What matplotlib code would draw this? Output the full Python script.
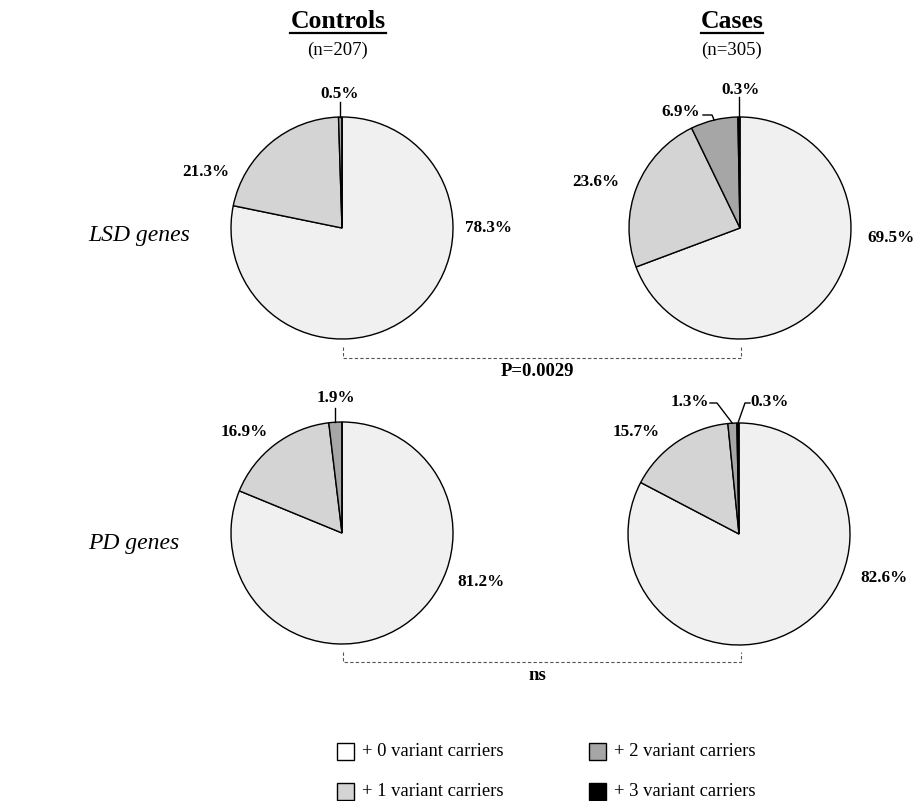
import numpy as np
import matplotlib
matplotlib.use("Agg")
import matplotlib.pyplot as plt
from matplotlib.patches import Rectangle

# ---------------- data ----------------
categories = ["+ 0 variant carriers", "+ 1 variant carriers",
              "+ 2 variant carriers", "+ 3 variant carriers"]
groups = ["Controls", "Cases"]
group_n = [207, 305]
gene_sets = ["LSD genes", "PD genes"]

lsd_controls = [78.3, 21.3, 0.5, 0.0]
lsd_cases = [69.5, 23.6, 6.9, 0.3]
pd_controls = [81.2, 16.9, 1.9, 0.0]
pd_cases = [82.6, 15.7, 1.3, 0.3]

p_values = ["P=0.0029", "ns"]

colors = ["#f0f0f0", "#d4d4d4", "#a6a6a6", "#000000"]
legend_colors = ["#ffffff", "#d4d4d4", "#a6a6a6", "#000000"]

# ---------------- layout (pixel coordinates, y down) ----------------
W, H = 914, 801
def Y(py):
    return H - py

SERIF = ["Liberation Serif", "DejaVu Serif"]
plt.rcParams["font.family"] = SERIF

fig = plt.figure(figsize=(W / 100, H / 100), dpi=100)
ax = fig.add_axes([0, 0, 1, 1])

centers = {("LSD genes", "Controls"): (342, 228), ("LSD genes", "Cases"): (740, 228),
           ("PD genes", "Controls"): (342, 533), ("PD genes", "Cases"): (739, 534)}
radius = 111

data = {("LSD genes", "Controls"): lsd_controls, ("LSD genes", "Cases"): lsd_cases,
        ("PD genes", "Controls"): pd_controls, ("PD genes", "Cases"): pd_cases}

# label centers for each category per pie (None = no label)
label_pos = {
    ("LSD genes", "Controls"): [(489, 228), (206, 172), (340, 94), None],
    ("LSD genes", "Cases"): [(891, 238), (596, 182), (681, 112), (741, 90)],
    ("PD genes", "Controls"): [(481, 582), (244, 432), (336, 398), None],
    ("PD genes", "Cases"): [(884, 578), (636, 432), (690, 402), (770, 402)],
}
# leader lines: start points (pixels) before reaching the wedge edge
leaders = {
    ("LSD genes", "Controls"): {2: "vert102"},
    ("LSD genes", "Cases"): {2: [(703, 115), (712, 115)], 3: "vert97"},
    ("PD genes", "Controls"): {2: "vert408"},
    ("PD genes", "Cases"): {2: [(710, 403), (717, 403)], 3: [(750, 403), (745, 403)]},
}

for key, vals in data.items():
    cx, cy = centers[key]
    ax.pie(vals, colors=colors, startangle=90, counterclock=False,
           center=(cx, Y(cy)), radius=radius,
           wedgeprops=dict(edgecolor="black", linewidth=1.0))
    total = float(sum(vals))
    cum = np.cumsum([0] + list(vals)) / total
    for i, v in enumerate(vals):
        pos = label_pos[key][i]
        if pos is None or v == 0:
            continue
        ax.text(pos[0], Y(pos[1]), f"{v:.1f}%", ha="center", va="center",
                fontsize=12.3, fontweight="bold")
        ld = leaders[key].get(i)
        if ld is None:
            continue
        mid = (cum[i] + cum[i + 1]) / 2
        theta = np.deg2rad(90 - 360 * mid)
        px = cx + radius * np.cos(theta)
        py = cy - radius * np.sin(theta)
        if isinstance(ld, str):
            y0 = float(ld[4:])
            ax.plot([px, px], [Y(y0), Y(py)], color="black", lw=1.0)
        else:
            xs = [p[0] for p in ld] + [px]
            ys = [Y(p[1]) for p in ld] + [Y(py)]
            ax.plot(xs, ys, color="black", lw=1.0)

ax.set_xlim(0, W)
ax.set_ylim(0, H)
ax.set_aspect("equal")
ax.axis("off")

# group titles
title_x = [338, 732]
fig.canvas.draw()
renderer = fig.canvas.get_renderer()
for gx, g, n in zip(title_x, groups, group_n):
    t = ax.text(gx, Y(21), g, ha="center", va="center", fontsize=18.5, fontweight="bold")
    bb = t.get_window_extent(renderer=renderer)
    ax.plot([bb.x0, bb.x1], [Y(33), Y(33)], color="black", lw=1.6)
    ax.text(gx, Y(50), f"(n={n})", ha="center", va="center", fontsize=13.5)

# row labels
ax.text(88, Y(235), gene_sets[0], ha="left", va="center", fontsize=17, style="italic")
ax.text(88, Y(543), gene_sets[1], ha="left", va="center", fontsize=17, style="italic")

# comparison brackets
for (top, bot, ty), pv in zip([(347, 358, 372), (652, 662, 676)], p_values):
    xl = centers[("LSD genes", "Controls")][0] + 1
    xr = centers[("LSD genes", "Cases")][0] + 1
    ax.plot([xl, xl, xr, xr], [Y(top), Y(bot), Y(bot), Y(top)],
            color="#555555", lw=0.8, ls=(0, (3, 2)))
    ax.text(537, Y(ty), pv, ha="center", va="center",
            fontsize=13.5, fontweight="bold")

# legend
leg_pos = [(337, 743), (337, 783), (589, 743), (589, 783)]
for (lx, ly), lab, col in zip(leg_pos, categories, legend_colors):
    ax.add_patch(Rectangle((lx, Y(ly + 17)), 17, 17, facecolor=col,
                           edgecolor="black", lw=1.0))
    ax.text(lx + 25, Y(ly + 8.5), lab, ha="left", va="center", fontsize=13.4)

fig.savefig("out.png", dpi=100)
